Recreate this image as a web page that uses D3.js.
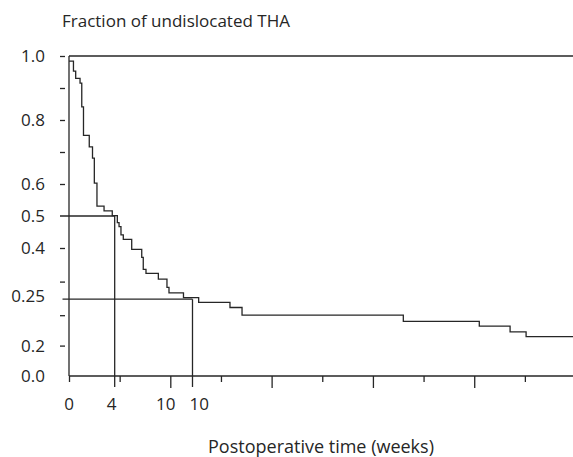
<!DOCTYPE html>
<html>
<head>
<meta charset="utf-8">
<title>Undislocated THA</title>
<script src="https://d3js.org/d3.v7.min.js"></script>
<style>
  body { margin: 0; background: #fff; }
  text { font-family: "Open Sans", sans-serif; fill: #262626; }
</style>
</head>
<body>
<svg width="573" height="457"></svg>
<script>
// step times (weeks) and fraction undislocated after each step
var stepTimes = [0, 0.44, 0.66, 1.09, 1.26, 1.43, 2.00, 2.32, 2.50, 2.76, 3.46, 4.27,
                 4.77, 4.94, 5.13, 5.36, 6.19, 7.18, 7.33, 7.60, 8.82, 9.67, 9.87,
                 11.30, 12.80, 15.89, 17.08, 33.00, 40.50, 43.54, 45.12];
var stepValues = [0.984, 0.953, 0.930, 0.915, 0.841, 0.752, 0.716, 0.681, 0.603, 0.531, 0.516, 0.501,
                  0.479, 0.467, 0.441, 0.427, 0.396, 0.371, 0.333, 0.321, 0.303, 0.277, 0.260,
                  0.245, 0.230, 0.214, 0.190, 0.171, 0.156, 0.138, 0.123];
var endTime = 49.75;

// median markers: [time, fraction]
var medianTimes = [4.51, 12.19];
var medianValues = [0.50, 0.24];

// y axis ticks (as drawn) and labels
var yTickValues = [1.0, 0.9, 0.8, 0.7, 0.6, 0.4, 0.295, 0.19, 0.095];
var yLabelText = ["1.0", "0.8", "0.6", "0.5", "0.4", "0.25", "0.2", "0.0"];
var yLabelPos = [1.0, 0.8, 0.6, 0.5, 0.4, 0.25, 0.095, 0.0];

// x axis ticks and labels
var xLongTicks = [10, 20, 30, 40];
var xShortTicks = [0, 5, 15, 25, 35, 45];
var xLabelAt = [0, 4.2, 9.55, 12.85];
var xLabelText = ["0", "4", "10", "10"];

var svg = d3.select("svg"),
    mLeft = 69, mRight = 573, mTop = 56, mBottom = 376;

var x = d3.scaleLinear().domain([0, endTime]).range([mLeft, mRight]);
var y = d3.scaleLinear().domain([0, 1]).range([mBottom, mTop]);

var ink = "#262626";

// frame: top line, left axis, bottom axis
svg.append("line").attr("x1", mLeft).attr("x2", mRight).attr("y1", mTop).attr("y2", mTop)
   .attr("stroke", ink).attr("stroke-width", 1.3);
svg.append("line").attr("x1", mLeft).attr("x2", mLeft).attr("y1", mTop).attr("y2", mBottom)
   .attr("stroke", ink).attr("stroke-width", 1.3);
svg.append("line").attr("x1", mLeft).attr("x2", mRight).attr("y1", mBottom).attr("y2", mBottom)
   .attr("stroke", ink).attr("stroke-width", 1.3);

// y ticks, detached from the axis line
var yAxis = svg.append("g")
    .attr("transform", "translate(" + (mLeft - 4) + ",0)")
    .call(d3.axisLeft(y).tickValues(yTickValues).tickSize(5).tickFormat(""));
yAxis.select(".domain").remove();
yAxis.selectAll("line").attr("stroke", ink).attr("stroke-width", 1.3);

svg.append("g").selectAll("text")
   .data(yLabelText)
   .enter().append("text")
   .attr("x", mLeft - 24)
   .attr("y", (d, i) => y(yLabelPos[i]))
   .attr("dy", "0.36em")
   .attr("text-anchor", "end")
   .style("font-size", "17px")
   .text(d => d);

// x ticks
var xLong = svg.append("g").attr("transform", "translate(0," + mBottom + ")")
    .call(d3.axisBottom(x).tickValues(xLongTicks).tickSize(12).tickFormat(""));
var xShort = svg.append("g").attr("transform", "translate(0," + mBottom + ")")
    .call(d3.axisBottom(x).tickValues(xShortTicks).tickSize(6).tickFormat(""));
svg.selectAll(".domain").remove();
xLong.selectAll("line").attr("stroke", ink).attr("stroke-width", 1.3);
xShort.selectAll("line").attr("stroke", ink).attr("stroke-width", 1.3);

svg.append("g").selectAll("text")
   .data(xLabelText)
   .enter().append("text")
   .attr("x", (d, i) => x(xLabelAt[i]))
   .attr("y", 410)
   .attr("text-anchor", "middle")
   .style("font-size", "17px")
   .text(d => d);

// median lines
medianTimes.forEach(function (t, i) {
    var v = medianValues[i];
    svg.append("line")
       .attr("x1", mLeft - (i === 0 ? 9 : 6.5)).attr("x2", x(t))
       .attr("y1", y(v)).attr("y2", y(v))
       .attr("stroke", ink).attr("stroke-width", 1.3);
    svg.append("line")
       .attr("x1", x(t)).attr("x2", x(t))
       .attr("y1", y(v)).attr("y2", mBottom + 11)
       .attr("stroke", ink).attr("stroke-width", 1.3);
});

// Kaplan-Meier step curve
var pts = stepTimes.map((t, i) => [t, stepValues[i]]);
pts.push([endTime, stepValues[stepValues.length - 1]]);
svg.append("path")
   .datum(pts)
   .attr("fill", "none")
   .attr("stroke", ink)
   .attr("stroke-width", 1.3)
   .attr("d", d3.line().x(d => x(d[0])).y(d => y(d[1])).curve(d3.curveStepAfter));

// titles
svg.append("text")
   .attr("x", 62).attr("y", 27)
   .style("font-size", "17px")
   .text("Fraction of undislocated THA");
svg.append("text")
   .attr("x", 321).attr("y", 453)
   .attr("text-anchor", "middle")
   .style("font-size", "18px")
   .text("Postoperative time (weeks)");
</script>
</body>
</html>
